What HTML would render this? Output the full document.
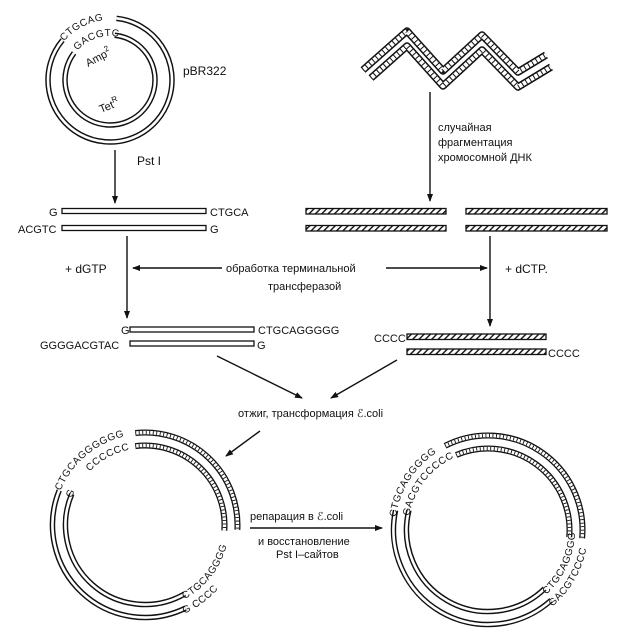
<!DOCTYPE html>
<html><head><meta charset="utf-8">
<style>
html,body{margin:0;padding:0;background:#fff;}
svg{display:block;}
text{font-family:"Liberation Sans",sans-serif;fill:#111;}
.t{font-size:11px;}
.s{font-size:10px;letter-spacing:0.5px;}
</style></head>
<body>
<svg width="623" height="642" viewBox="0 0 623 642" xmlns="http://www.w3.org/2000/svg">
<defs>
<pattern id="h" width="4.5" height="4.5" patternUnits="userSpaceOnUse" patternTransform="rotate(45)">
<rect width="4.5" height="4.5" fill="#fff"/><rect width="1.4" height="4.5" fill="#111"/>
</pattern>
<marker id="ar" markerWidth="8" markerHeight="8" refX="7" refY="4" orient="auto" markerUnits="userSpaceOnUse">
<path d="M0,1 L8,4 L0,7 Z" fill="#111"/>
</marker>
</defs>
<g id="arcs" fill="none"></g>

<!-- wavy chromosomal DNA -->
<g fill="none" stroke-linejoin="round" stroke-linecap="butt">
<path d="M363,70 L407,31 L443,71 L482,35 L518,72 L546,55" stroke="#111" stroke-width="7.5"/>
<path d="M363,70 L407,31 L443,71 L482,35 L518,72 L546,55" stroke="#fff" stroke-width="4.5"/>
<path d="M363,70 L407,31 L443,71 L482,35 L518,72 L546,55" stroke="#111" stroke-width="4.5" stroke-dasharray="1 3.5"/>
<path d="M371,78 L407,46 L443,86 L482,50 L518,87 L551,67" stroke="#111" stroke-width="7.5"/>
<path d="M371,78 L407,46 L443,86 L482,50 L518,87 L551,67" stroke="#fff" stroke-width="4.5"/>
<path d="M371,78 L407,46 L443,86 L482,50 L518,87 L551,67" stroke="#111" stroke-width="4.5" stroke-dasharray="1 3.5"/>
</g>

<!-- arrows -->
<g stroke="#111" stroke-width="1.4" fill="none" marker-end="url(#ar)">
<line x1="115" y1="150" x2="115" y2="203"/>
<line x1="430" y1="92" x2="430" y2="201"/>
<line x1="127" y1="236" x2="127" y2="318"/>
<line x1="490" y1="236" x2="490" y2="326"/>
<line x1="222" y1="268" x2="133" y2="268"/>
<line x1="386" y1="268" x2="487" y2="268"/>
<line x1="217" y1="356" x2="302" y2="398"/>
<line x1="397" y1="360" x2="331" y2="398"/>
<line x1="260" y1="431" x2="226" y2="456"/>
<line x1="250" y1="528" x2="382" y2="528"/>
</g>

<!-- linear fragments -->
<g stroke="#111" stroke-width="1.3">
<rect x="62" y="208.5" width="144" height="5" fill="#fff"/>
<rect x="62" y="225.5" width="144" height="5" fill="#fff"/>
<rect x="306" y="208.5" width="140" height="5.5" fill="url(#h)"/>
<rect x="306" y="225.5" width="140" height="5.5" fill="url(#h)"/>
<rect x="466" y="208.5" width="141" height="5.5" fill="url(#h)"/>
<rect x="466" y="225.5" width="141" height="5.5" fill="url(#h)"/>
<rect x="130" y="327" width="124" height="5" fill="#fff"/>
<rect x="130" y="341" width="124" height="5" fill="#fff"/>
<rect x="407" y="334" width="139" height="5.5" fill="url(#h)"/>
<rect x="407" y="349" width="139" height="5.5" fill="url(#h)"/>
</g>

<!-- labels -->
<text class="t" x="183" y="75" style="font-size:12px">pBR322</text>
<text class="t" x="137" y="165" style="font-size:12px">Pst I</text>
<text class="t" x="49" y="216">G</text>
<text class="t" x="210" y="216">CTGCA</text>
<text class="t" x="18" y="233">ACGTC</text>
<text class="t" x="210" y="233">G</text>
<text class="t" x="438" y="131">случайная</text>
<text class="t" x="438" y="146">фрагментация</text>
<text class="t" x="438" y="161">хромосомной  ДНК</text>
<text class="t" x="65" y="273" style="font-size:12px">+ dGTP</text>
<text class="t" x="226" y="272">обработка терминальной</text>
<text class="t" x="268" y="290">трансферазой</text>
<text class="t" x="505" y="273" style="font-size:12px">+ dCTP.</text>
<text class="t" x="121" y="334">G</text>
<text class="t" x="258" y="334">CTGCAGGGGG</text>
<text class="t" x="40" y="349">GGGGACGTAC</text>
<text class="t" x="257" y="349">G</text>
<text class="t" x="374" y="342">CCCC</text>
<text class="t" x="548" y="357">CCCC</text>
<text class="t" x="238" y="417">отжиг, трансформация  ℰ.coli</text>
<text class="t" x="250" y="520">репарация  в  ℰ.coli</text>
<text class="t" x="258" y="545">и  восстановление</text>
<text class="t" x="276" y="558">Pst I–сайтов</text>
<text class="t" x="0" y="0" transform="translate(88,67) rotate(-28)">Amp<tspan dy="-5" font-size="8">2</tspan></text>
<text class="t" x="0" y="0" transform="translate(101,113) rotate(-22)">Tet<tspan dy="-5" font-size="8">R</tspan></text>

<!-- curved text -->
<path id="p1" fill="none"/><path id="p2" fill="none"/>
<path id="p3" fill="none"/><path id="p4" fill="none"/>
<path id="p5" fill="none"/><path id="p6" fill="none"/>
<path id="p7" fill="none"/><path id="p8" fill="none"/>
<path id="p9" fill="none"/><path id="p10" fill="none"/>
<path id="p11" fill="none"/>
<text class="s"><textPath href="#p1">CTGCAG</textPath></text>
<text class="s"><textPath href="#p2">GACGTC</textPath></text>
<text class="s"><textPath href="#p3">CTGCAGGGGGG</textPath></text>
<text class="s"><textPath href="#p4">G</textPath></text>
<text class="s"><textPath href="#p5">CCCCCC</textPath></text>
<text class="s"><textPath href="#p6">CTGCAGGGG</textPath></text>
<text class="s"><textPath href="#p7">G  CCCC</textPath></text>
<text class="s"><textPath href="#p8">CTGCAGGGGG</textPath></text>
<text class="s"><textPath href="#p9">GACGTCCCCC</textPath></text>
<text class="s"><textPath href="#p10">CTGCAGGGG</textPath></text>
<text class="s"><textPath href="#p11">GACGTCCCC</textPath></text>
</svg>
<script>
(function(){
var NS="http://www.w3.org/2000/svg";
function pt(cx,cy,r,a){a=a*Math.PI/180;return [cx+r*Math.cos(a),cy-r*Math.sin(a)];}
function arc(cx,cy,r,a1,a2,cw){
  var p1=pt(cx,cy,r,a1),p2=pt(cx,cy,r,a2);
  var span=cw?((a1-a2)%360+360)%360:((a2-a1)%360+360)%360;
  var large=span>180?1:0;
  return "M"+p1[0].toFixed(2)+","+p1[1].toFixed(2)+" A"+r+","+r+" 0 "+large+" "+(cw?1:0)+" "+p2[0].toFixed(2)+","+p2[1].toFixed(2);
}
var g=document.getElementById("arcs");
function strand(d,hatch){
  var a=document.createElementNS(NS,"path");a.setAttribute("d",d);a.setAttribute("stroke","#111");a.setAttribute("stroke-width",hatch?"6":"5.5");g.appendChild(a);
  var b=document.createElementNS(NS,"path");b.setAttribute("d",d);b.setAttribute("stroke","#fff");b.setAttribute("stroke-width",hatch?"3.4":"2.6");g.appendChild(b);
  if(hatch){var c=document.createElementNS(NS,"path");c.setAttribute("d",d);c.setAttribute("stroke","#111");c.setAttribute("stroke-width","3.4");c.setAttribute("stroke-dasharray","0.9 2.6");g.appendChild(c);}
}
strand(arc(110,80,62,84,140,true));
strand(arc(110,80,45,84,143,true));
strand(arc(145,525,92.5,158,296,false));
strand(arc(145,525,79.5,157,300,false));
strand(arc(145,525,92.5,96,-3,true),true);
strand(arc(145,525,79.5,97,-4,true),true);
strand(arc(488,530,94.5,168,312,false));
strand(arc(488,530,81.5,166,314,false));
strand(arc(488,530,94.5,117,-5,true),true);
strand(arc(488,530,81.5,113,-5,true),true);
function sp(id,d){document.getElementById(id).setAttribute("d",d);}
sp("p1",arc(110,80,60,140,82,true));
sp("p2",arc(110,80,44,138,82,true));
sp("p3",arc(145,525,91,158,92,true));
sp("p4",arc(145,525,78,160,140,true));
sp("p5",arc(145,525,77,136,92,true));
sp("p6",arc(145,525,84,-62,10,false));
sp("p7",arc(145,525,97,-66,10,false));
sp("p8",arc(488,530,93,172,110,true));
sp("p9",arc(488,530,80,170,108,true));
sp("p10",arc(488,530,87,-48,10,false));
sp("p11",arc(488,530,100,-50,10,false));
})();
</script>
</body></html>
